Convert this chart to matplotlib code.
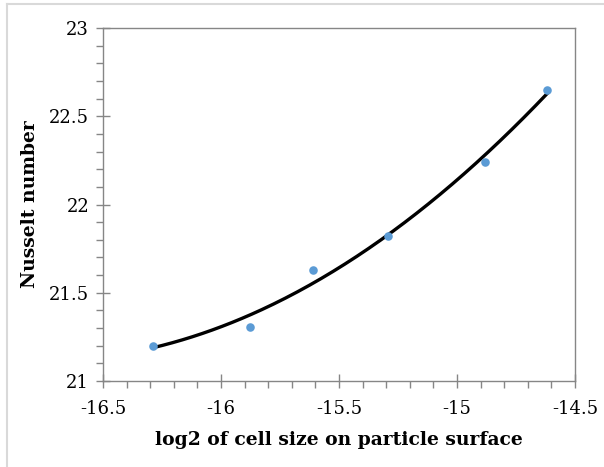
"""Nusselt number vs log2 of cell size on particle surface, with quadratic trendline."""

import numpy as np
import matplotlib.pyplot as plt
from matplotlib.ticker import MultipleLocator
from matplotlib.lines import Line2D

log2_cell_size = [-16.29, -15.878, -15.612, -15.293, -14.881, -14.617]
nusselt = [21.20, 21.308, 21.629, 21.823, 22.243, 22.650]

x_ticks = [-16.5, -16, -15.5, -15, -14.5]
x_tick_labels = ["-16.5", "-16", "-15.5", "-15", "-14.5"]
y_ticks = [21, 21.5, 22, 22.5, 23]
y_tick_labels = ["21", "21.5", "22", "22.5", "23"]

FONT = "DejaVu Serif"
AXIS_GRAY = "#868686"

fig = plt.figure(figsize=(6.04, 4.67), dpi=100)
ax = fig.add_axes([103 / 604, 1 - 381 / 467, 472 / 604, 353 / 467])

# Excel-style polynomial (order 2) trendline
coef = np.polyfit(log2_cell_size, nusselt, 2)
xs = np.linspace(min(log2_cell_size), max(log2_cell_size), 200)
ax.plot(xs, np.polyval(coef, xs), color="black", lw=2.4, zorder=2)
ax.scatter(log2_cell_size, nusselt, s=38, color="#5b9bd5", zorder=3, linewidths=0)

ax.set_xlim(-16.5, -14.5)
ax.set_ylim(21, 23)
ax.set_xticks(x_ticks)
ax.set_xticklabels(x_tick_labels)
ax.set_yticks(y_ticks)
ax.set_yticklabels(y_tick_labels)
ax.xaxis.set_minor_locator(MultipleLocator(0.1))
ax.yaxis.set_minor_locator(MultipleLocator(0.1))

ax.tick_params(which="major", direction="inout", length=10, width=1, color=AXIS_GRAY,
               labelsize=13, pad=5)
ax.tick_params(axis="x", which="major", pad=9)
ax.tick_params(which="minor", direction="out", length=5, width=1, color=AXIS_GRAY)
for lbl in ax.get_xticklabels() + ax.get_yticklabels():
    lbl.set_fontfamily(FONT)
for sp in ax.spines.values():
    sp.set_color(AXIS_GRAY)
    sp.set_linewidth(1)

ax.set_xlabel("log2 of cell size on particle surface", fontsize=13.5, fontweight="bold",
              family=FONT, labelpad=9)
ax.set_ylabel("Nusselt number", fontsize=13.5, fontweight="bold", family=FONT, labelpad=7)

# light chart-area frame (only left and top edges fall inside the image)
frame = dict(transform=fig.transFigure, color="#d9d9d9", lw=1.5)
fig.lines.append(Line2D([7 / 604, 7 / 604], [0, 1 - 4 / 467], **frame))
fig.lines.append(Line2D([7 / 604, 1], [1 - 4 / 467, 1 - 4 / 467], **frame))

fig.savefig("out.png", dpi=100)
plt.close(fig)
